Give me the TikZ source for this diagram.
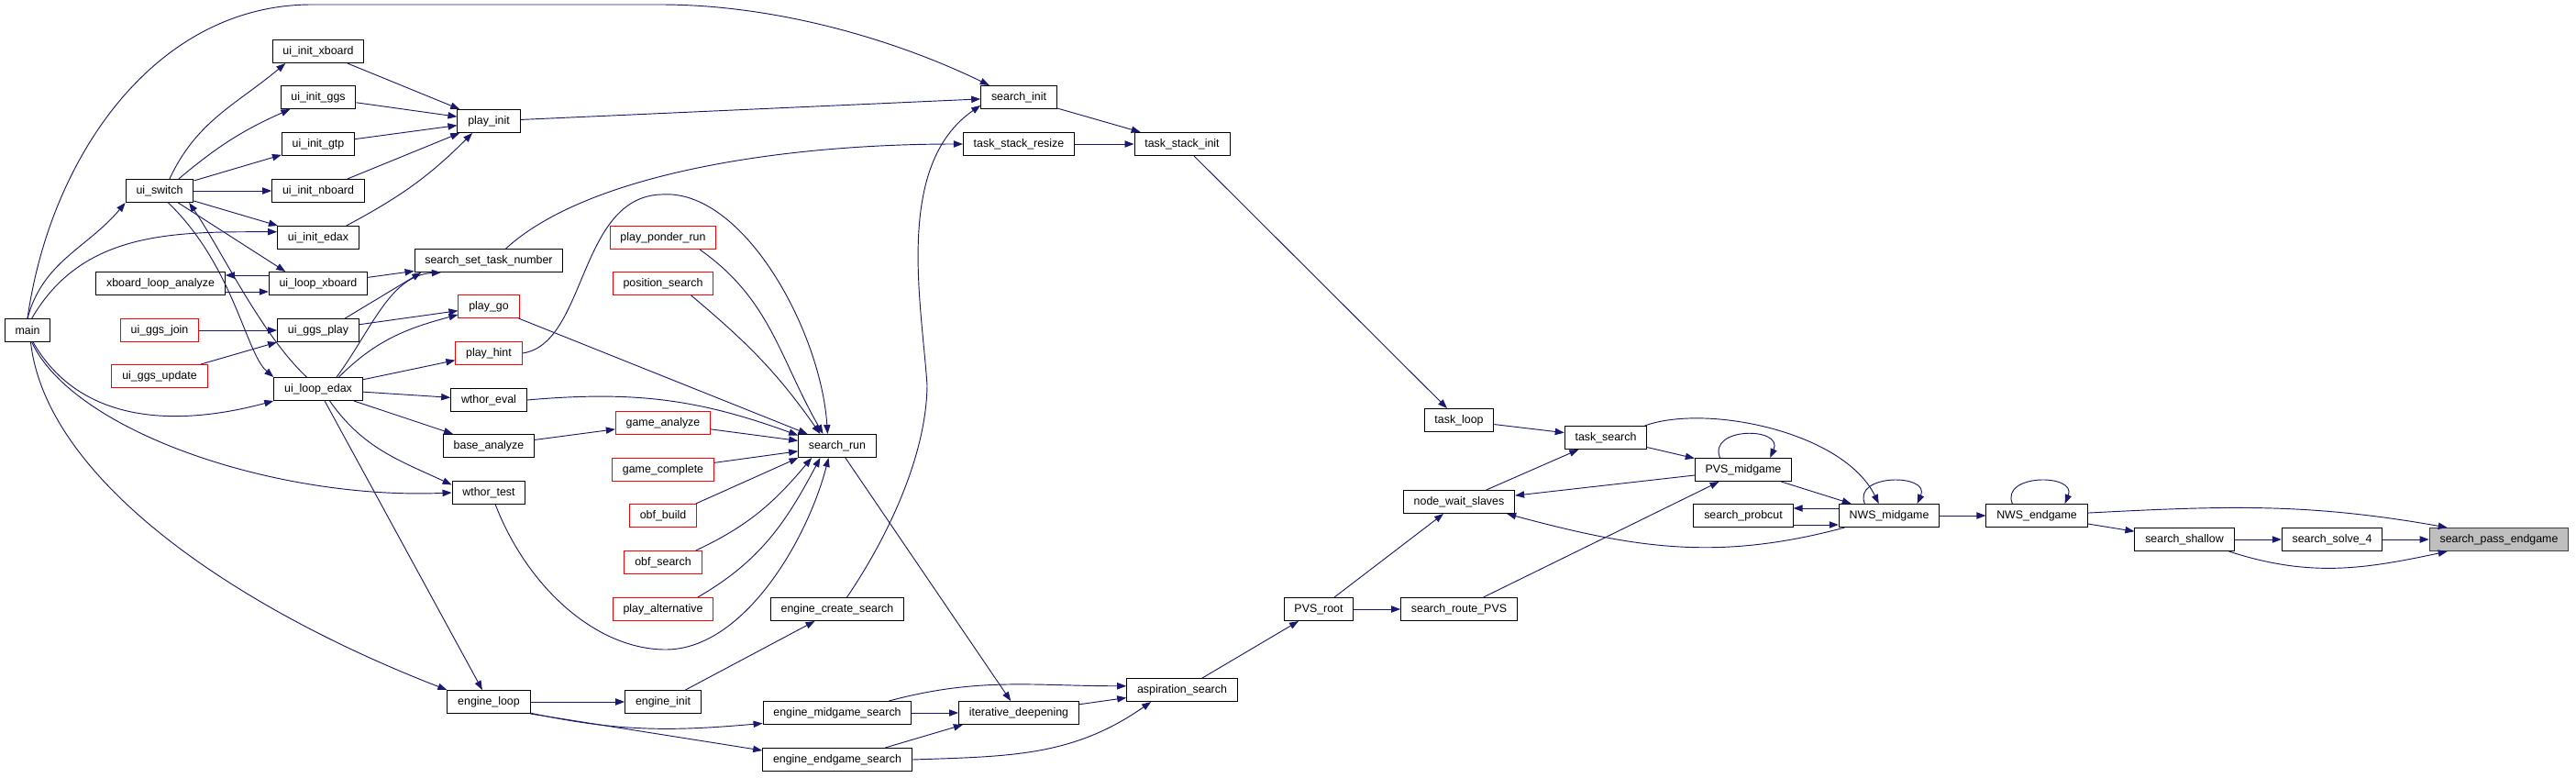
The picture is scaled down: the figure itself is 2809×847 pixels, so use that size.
\documentclass[tikz,border=0pt]{standalone}
\usepackage{fontspec}
\setmainfont{Liberation Sans}
\usepackage{tikz}
\usepackage{xcolor}
\usetikzlibrary{arrows.meta}

\definecolor{edgeblue}{HTML}{191970}
\definecolor{rootgrey}{HTML}{BFBFBF}

\begin{document}
\begin{tikzpicture}[x=0.75pt, y=0.75pt,
    funcbox/.style={draw=black, line width=0.75pt, fill=white, minimum height=18.75pt,
        inner xsep=8.5pt, inner ysep=0pt, font=\fontsize{9.3}{11}\selectfont},
    truncbox/.style={funcbox, draw=red},
    rootbox/.style={funcbox, draw=black!75, fill=rootgrey},
    call/.style={draw=edgeblue, line width=0.7pt, -{Triangle[length=7.5pt, width=5.5pt]}}]

    \useasboundingbox (0,0) rectangle (2809,-847);

    % Callers of the ui layer
    \node[funcbox] (main) at (30,-360) {main};
    \node[funcbox] (uiswitch) at (174,-208) {ui\_switch};
    \node[funcbox] (xbanalyze) at (175,-309) {xboard\_loop\_analyze};
    \node[truncbox] (ggsjoin) at (174,-360) {ui\_ggs\_join};
    \node[truncbox] (ggsupdate) at (174,-410) {ui\_ggs\_update};

    \node[funcbox] (initxboard) at (347,-56) {ui\_init\_xboard};
    \node[funcbox] (initggs) at (347,-106) {ui\_init\_ggs};
    \node[funcbox] (initgtp) at (347,-157) {ui\_init\_gtp};
    \node[funcbox] (initnboard) at (347,-208) {ui\_init\_nboard};
    \node[funcbox] (initedax) at (347,-259) {ui\_init\_edax};
    \node[funcbox] (loopxboard) at (347,-309) {ui\_loop\_xboard};
    \node[funcbox] (ggsplay) at (347,-360) {ui\_ggs\_play};
    \node[funcbox] (loopedax) at (347,-424) {ui\_loop\_edax};

    % Play and tool functions
    \node[funcbox] (playinit) at (533,-132) {play\_init};
    \node[funcbox] (settask) at (533,-284) {search\_set\_task\_number};
    \node[truncbox] (playgo) at (533,-334) {play\_go};
    \node[truncbox] (playhint) at (533,-385) {play\_hint};
    \node[funcbox] (wthoreval) at (533,-436) {wthor\_eval};
    \node[funcbox] (baseanalyze) at (533,-486) {base\_analyze};
    \node[funcbox] (wthortest) at (533,-537) {wthor\_test};
    \node[funcbox] (engineloop) at (533,-765) {engine\_loop};

    \node[truncbox] (ponderrun) at (723,-259) {play\_ponder\_run};
    \node[truncbox] (possearch) at (723,-309) {position\_search};
    \node[truncbox] (gameanalyze) at (723,-461) {game\_analyze};
    \node[truncbox] (gamecomplete) at (723,-512) {game\_complete};
    \node[truncbox] (obfbuild) at (723,-562) {obf\_build};
    \node[truncbox] (obfsearch) at (723,-613) {obf\_search};
    \node[truncbox] (playalt) at (723,-664) {play\_alternative};
    \node[funcbox] (engineinit) at (723,-765) {engine\_init};

    % Search entry points
    \node[funcbox] (searchrun) at (913,-486) {search\_run};
    \node[funcbox] (createsearch) at (913,-664) {engine\_create\_search};
    \node[funcbox] (midsearch) at (913,-777) {engine\_midgame\_search};
    \node[funcbox] (endsearch) at (913,-828) {engine\_endgame\_search};
    \node[funcbox] (searchinit) at (1111,-106) {search\_init};
    \node[funcbox] (stackresize) at (1111,-157) {task\_stack\_resize};
    \node[funcbox] (iterdeep) at (1111,-777) {iterative\_deepening};
    \node[funcbox] (stackinit) at (1289,-157) {task\_stack\_init};
    \node[funcbox] (aspiration) at (1289,-752) {aspiration\_search};

    % Tree search
    \node[funcbox] (pvsroot) at (1438,-664) {PVS\_root};
    \node[funcbox] (taskloop) at (1591,-458) {task\_loop};
    \node[funcbox] (waitslaves) at (1591,-547) {node\_wait\_slaves};
    \node[funcbox] (routepvs) at (1591,-664) {search\_route\_PVS};
    \node[funcbox] (tasksearch) at (1751,-477) {task\_search};
    \node[funcbox] (pvsmid) at (1901,-512) {PVS\_midgame};
    \node[funcbox] (probcut) at (1901,-562) {search\_probcut};
    \node[funcbox] (nwsmid) at (2060,-562) {NWS\_midgame};
    \node[funcbox] (nwsend) at (2221,-562) {NWS\_endgame};
    \node[funcbox] (shallow) at (2382,-588) {search\_shallow};
    \node[funcbox] (solvefour) at (2543,-588) {search\_solve\_4};
    \node[rootbox] (passend) at (2725,-588) {search\_pass\_endgame};

    % Straight calls
    \foreach \a/\b in {uiswitch/initgtp, uiswitch/initnboard, uiswitch/initedax,
        initxboard/playinit, initggs/playinit, initgtp/playinit, initnboard/playinit,
        ggsjoin/ggsplay, ggsupdate/ggsplay, ggsplay/playgo,
        loopedax/playhint, loopedax/wthoreval, loopedax/baseanalyze, loopedax/engineloop,
        playinit/searchinit, playgo/searchrun, baseanalyze/gameanalyze,
        gameanalyze/searchrun, gamecomplete/searchrun,
        engineloop/engineinit, engineinit/createsearch, searchrun/iterdeep,
        midsearch/iterdeep, iterdeep/aspiration,
        searchinit/stackinit, stackresize/stackinit, stackinit/taskloop,
        aspiration/pvsroot, pvsroot/waitslaves, pvsroot/routepvs, routepvs/pvsmid,
        taskloop/tasksearch, waitslaves/tasksearch, tasksearch/pvsmid,
        pvsmid/waitslaves, pvsmid/nwsmid, nwsmid/nwsend, nwsend/shallow,
        shallow/solvefour, solvefour/passend}
        \draw[call] (\a) -- (\b);

    % Straight calls with shifted ends
    \draw[call] (uiswitch) -- (loopxboard.160);
    \draw[call] (loopxboard.7) -- (settask.188);
    \draw[call] (ggsplay.24) -- (settask.-170);
    \draw[call] (obfbuild.20) -- (searchrun.-163);
    \draw[call] (engineloop.-16) -- (endsearch.173);
    \draw[call] (endsearch.14) -- (iterdeep.-168);
    \draw[call] ([yshift=6.75pt]loopxboard.west) -- ([yshift=6.75pt]xbanalyze.east);
    \draw[call] ([yshift=-6.75pt]xbanalyze.east) -- ([yshift=-6.75pt]loopxboard.west);
    \draw[call] ([yshift=6pt]nwsmid.west) -- ([yshift=6pt]probcut.east);
    \draw[call] ([yshift=-7.5pt]probcut.east) -- ([yshift=-7.5pt]nwsmid.west);

    % Curved calls from main
    \draw[call] (main.north) .. controls (55,-170) and (170,-5) .. (340,-5)
        -- (720,-5) .. controls (850,-5) and (980,-45) .. (searchinit.158);
    \draw[call] (main.north) to[out=75, in=-130] (uiswitch.south west);
    \draw[call] (main.70) to[out=60, in=180] (initedax.172);
    \draw[call] (main.-65) to[out=-60, in=195] (loopedax.south west);
    \draw[call] (main.-70) .. controls (80,-470) and (300,-545) .. (wthortest.west);
    \draw[call] (main.-75) .. controls (50,-520) and (250,-660) .. (engineloop.north west);

    % Curved calls of the ui layer
    \draw[call] (uiswitch.50) to[out=65, in=-140] (initxboard.200);
    \draw[call] (uiswitch.32) to[bend left=8] (initggs.203);
    \draw[call] (uiswitch.-54) .. controls (255,-290) and (268,-385) .. (loopedax.north west);
    \draw[call] (loopedax.134) .. controls (285,-365) and (240,-270) .. (uiswitch.-22);
    \draw[call] (initedax.23) to[out=28, in=-135] (playinit.-144);
    \draw[call] (loopedax.33) .. controls (405,-360) and (425,-300) .. (settask.-166);
    \draw[call] (loopedax.30) to[out=45, in=195] (playgo.195);
    \draw[call] (loopedax.-46) to[out=-55, in=155] (wthortest.168);
    \draw[call] (settask.35) .. controls (640,-190) and (850,-157) .. (stackresize.west);

    % Curved calls into search_run
    \draw[call] (playhint.east) .. controls (640,-375) and (630,-215) .. (721,-212)
        .. controls (810,-205) and (895,-360) .. (searchrun.129);
    \draw[call] (ponderrun.-18) to[out=-35, in=120] (searchrun.140);
    \draw[call] (possearch.-23) to[out=-40, in=125] (searchrun.145);
    \draw[call] (wthoreval.east) to[out=5, in=160] (searchrun.165);
    \draw[call] (obfsearch.20) to[out=25, in=-130] (searchrun.-155);
    \draw[call] (playalt.19) to[out=30, in=-118] (searchrun.-145);
    \draw[call] (wthortest.-61) .. controls (575,-640) and (650,-708) .. (726,-708)
        .. controls (810,-708) and (880,-590) .. (searchrun.-126);

    % Curved calls of the engine
    \draw[call] (engineloop.-15) to[out=-12, in=185] (midsearch.188);
    \draw[call] (midsearch.13) to[out=15, in=180] (aspiration.176);
    \draw[call] (endsearch.east) to[out=2, in=-145] (aspiration.-159);
    \draw[call] (createsearch.51) .. controls (965,-590) and (1010,-500) .. (1011,-420)
        .. controls (1005,-330) and (975,-180) .. (searchinit.192);

    % Curved calls of the tree search
    \draw[call] (tasksearch.17) .. controls (1860,-440) and (2010,-470) .. (nwsmid.131);
    \draw[call] (nwsmid.-165) to[out=-165, in=-15] (waitslaves.-14);
    \draw[call] (pvsmid.153) .. controls (1862,-465) and (1945,-465) .. (pvsmid.24);
    \draw[call] (nwsmid.154) .. controls (2020,-516) and (2105,-516) .. (nwsmid.23);
    \draw[call] (nwsend.154) .. controls (2181,-516) and (2265,-516) .. (nwsend.23);
    \draw[call] (nwsend.3) to[out=3, in=170] (passend.167);
    \draw[call] (shallow.-15) to[out=-18, in=-168] (passend.-167);

\end{tikzpicture}
\end{document}
